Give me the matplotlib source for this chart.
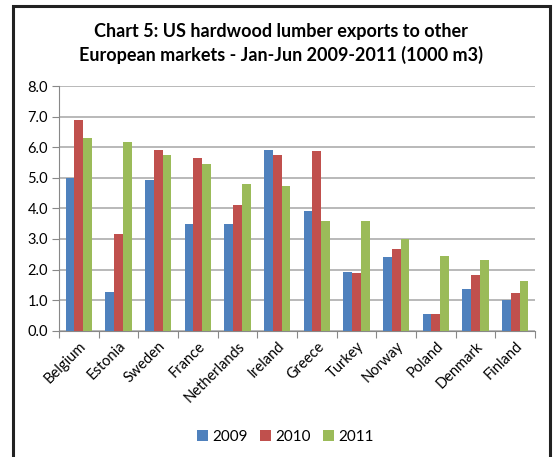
import numpy as np
import matplotlib
matplotlib.use("Agg")
import matplotlib.pyplot as plt
from matplotlib.patches import Rectangle

plt.rcParams['font.family'] = ['Lato', 'DejaVu Sans']

countries = ["Belgium", "Estonia", "Sweden", "France", "Netherlands", "Ireland",
             "Greece", "Turkey", "Norway", "Poland", "Denmark", "Finland"]
years = ["2009", "2010", "2011"]
v2009 = [5.0, 1.25, 4.92, 3.5, 3.5, 5.92, 3.92, 1.91, 2.4, 0.54, 1.37, 1.0]
v2010 = [6.9, 3.17, 5.92, 5.63, 4.12, 5.73, 5.86, 1.89, 2.68, 0.54, 1.81, 1.22]
v2011 = [6.3, 6.17, 5.76, 5.44, 4.79, 4.74, 3.58, 3.58, 3.0, 2.43, 2.32, 1.62]
colors = ["#4F81BD", "#C0504D", "#9BBB59"]

fig = plt.figure(figsize=(5.55, 4.57), dpi=100)
ax = fig.add_axes([0.1063, 0.2764, 0.8577, 0.5354])

x = np.arange(len(countries))
w = 0.22
for i, (vals, c, lab) in enumerate(zip([v2009, v2010, v2011], colors, years)):
    ax.bar(x + (i - 1) * w, vals, width=w, color=c, label=lab, zorder=3)

ax.set_xlim(-0.5, len(countries) - 0.5)
ax.set_ylim(0, 8)
ax.set_yticks(np.arange(0, 9, 1))
ax.set_yticklabels([f"{v:.1f}" for v in range(9)], fontsize=10.5)
ax.yaxis.grid(True, color="#a6a6a6", linewidth=1.1, zorder=0)

ax.set_xticks(np.arange(-0.5, len(countries), 1))
ax.set_xticklabels([])
ax.set_xticks(x, minor=True)
ax.set_xticklabels(countries, minor=True, rotation=45, ha="right",
                   rotation_mode="anchor", fontsize=10.5)
ax.tick_params(axis="x", which="minor", length=0, pad=6)
ax.tick_params(axis="x", which="major", length=5, color="#888888")
ax.tick_params(axis="y", length=5, color="#888888", pad=3)

for s in ["top", "right"]:
    ax.spines[s].set_visible(False)
for s in ["left", "bottom"]:
    ax.spines[s].set_color("#888888")

fig.text(0.507, 0.905, "Chart 5: US hardwood lumber exports to other\n"
         "European markets - Jan-Jun 2009-2011 (1000 m3)",
         ha="center", va="center", fontsize=13, fontweight="bold",
         linespacing=1.35)

ax.legend(loc="center", bbox_to_anchor=(0.515, 0.044), bbox_transform=fig.transFigure,
          ncol=3, frameon=False, fontsize=11, handlelength=0.7, handleheight=0.7,
          handletextpad=0.3, columnspacing=0.8)

# outer chart border
fig.patches.append(Rectangle((12.5 / 555, -0.05), (550 - 12.5) / 555, 1.05 - 6 / 457,
                             transform=fig.transFigure, fill=False,
                             edgecolor="#222222", linewidth=2.2))

fig.savefig("out.png", dpi=100)
